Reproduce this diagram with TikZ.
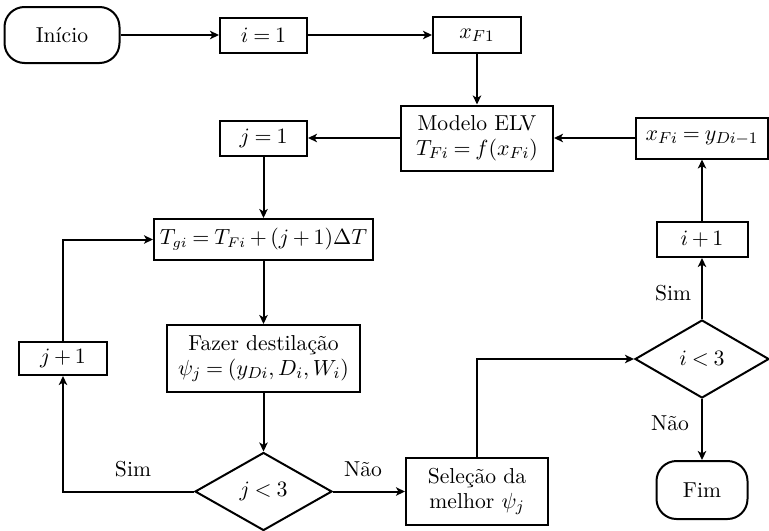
\documentclass[tikz,border=0pt]{standalone}
\usetikzlibrary{shapes.geometric,arrows.meta}
\begin{document}
\medmuskip=3mu
\thickmuskip=4mu
\begin{tikzpicture}[x=0.5pt,y=-0.5pt,
  every node/.style={font=\fontsize{10.8}{12.6}\selectfont},
  base/.style={draw,line width=1pt,inner sep=0pt,align=center},
  box/.style={base,rectangle},
  term/.style={base,rectangle,rounded corners=10pt},
  cond/.style={base,diamond},
  flow/.style={line width=1pt,-{Stealth[length=4.5pt,width=4.2pt,inset=1.2pt]}},
  lbl/.style={inner sep=1pt}]
\useasboundingbox (0,0) rectangle (769,530);

% start, initialisation and feed
\node[term,minimum width=57.5pt,minimum height=28pt] (inicio) at (62,35) {Início};
\node[box,minimum width=43.5pt,minimum height=17.5pt] (i1) at (263.5,35) {$i=1$};
\node[box,minimum width=44pt,minimum height=18pt] (xf1) at (477,35) {$x_{F1}$};

% equilibrium model and feed update
\node[box,minimum width=76pt,minimum height=32.5pt] (elv) at (477,138) {Modelo ELV\\$T_{Fi}=f(x_{Fi})$};
\node[box,minimum width=66pt,minimum height=20.5pt] (xfi) at (702,138) {$x_{Fi}=y_{Di-1}$};
\node[box,minimum width=45.5pt,minimum height=17.5pt] (ip1) at (702,239.5) {$i+1$};

% inner loop over j
\node[box,minimum width=43.5pt,minimum height=17.5pt] (j1) at (263.5,138) {$j=1$};
\node[box,minimum width=109.5pt,minimum height=20.5pt,font=\fontsize{10.5}{12.6}\selectfont] (tgi) at (263.5,239.5) {$T_{gi}=T_{Fi}+(j+1)\Delta T$};
\node[box,minimum width=96.5pt,minimum height=33.5pt] (faz) at (263.5,358.5) {Fazer destilação\\$\psi_j=(y_{Di},D_i,W_i)$};
\node[cond,minimum width=68.5pt,minimum height=39pt] (jlt) at (263.5,491.5) {$j<3$};
\node[box,minimum width=44pt,minimum height=16.5pt] (jp1) at (63,358.5) {$j+1$};

% selection and outer test
\node[box,minimum width=71pt,minimum height=33.5pt] (sel) at (477,491.5) {Seleção da\\melhor $\psi_j$};
\node[cond,minimum width=67pt,minimum height=39pt] (ilt) at (702,359) {$i<3$};
\node[term,minimum width=45.5pt,minimum height=29pt] (fim) at (702,490) {Fim};

% connectors
\draw[flow] (inicio) -- (i1);
\draw[flow] (i1) -- (xf1);
\draw[flow] (xf1) -- (elv);
\draw[flow] (xfi) -- (elv);
\draw[flow] (elv) -- (j1);
\draw[flow] (j1) -- (tgi);
\draw[flow] (tgi) -- (faz);
\draw[flow] (faz) -- (jlt);
\draw[flow] (jlt.west) -| (jp1.south);
\draw[flow] (jp1.north) |- (tgi.west);
\draw[flow] (jlt.east) -- (sel.west);
\draw[flow] (sel.north) |- (ilt.west);
\draw[flow] (ilt.north) -- (ip1.south);
\draw[flow] (ip1.north) -- (xfi.south);
\draw[flow] (ilt.south) -- (fim.north);

% branch labels
\node[lbl] (simj) at (133,469) {Sim};
\node[lbl] (naoj) at (363,469) {Não};
\node[lbl] (simi) at (673,293) {Sim};
\node[lbl] (naoi) at (670,423) {Não};
\end{tikzpicture}
\end{document}
